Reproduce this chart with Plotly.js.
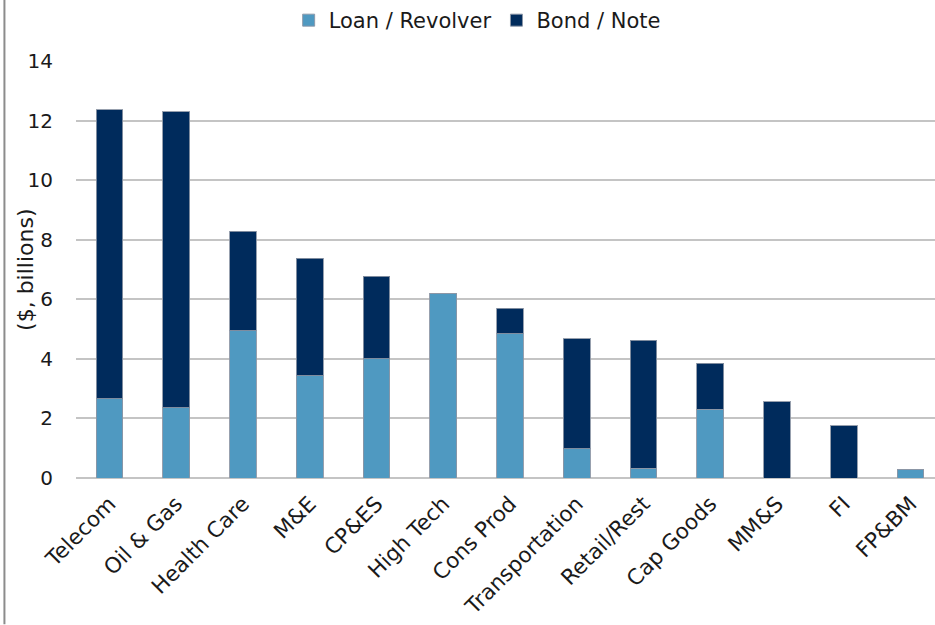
<!DOCTYPE html>
<html>
<head>
<meta charset="utf-8">
<script src="https://cdn.plot.ly/plotly-3.0.1.min.js"></script>
<style>html,body{margin:0;padding:0;background:#fff;}#chart{width:935px;height:625px;}</style>
</head>
<body>
<div id="chart"></div>
<script>
const categories = ["Telecom", "Oil & Gas", "Health Care", "M&E", "CP&ES", "High Tech", "Cons Prod", "Transportation", "Retail/Rest", "Cap Goods", "MM&S", "FI", "FP&BM"];
const loanRevolver = [2.66, 2.36, 4.94, 3.44, 4.00, 6.18, 4.85, 0.98, 0.33, 2.31, 0, 0, 0.30];
const bondNote = [9.71, 9.93, 3.34, 3.94, 2.77, 0, 0.85, 3.69, 4.30, 1.55, 2.56, 1.76, 0];
const yTicks = [0, 2, 4, 6, 8, 10, 12, 14];
const yTitle = "($, billions)";

const font = "'DejaVu Sans', Arial, sans-serif";
const outline = {color: "rgba(140,150,165,0.9)", width: 1};

const traces = [
  {type: "bar", name: "Loan / Revolver", x: categories, y: loanRevolver,
   marker: {color: "#4f99c1", line: outline}},
  {type: "bar", name: "Bond / Note", x: categories, y: bondNote,
   marker: {color: "#002b5c", line: outline}}
];

const layout = {
  width: 935, height: 625,
  margin: {l: 75.6, r: 0, t: 61, b: 146.5},
  barmode: "stack",
  bargap: 0.6,
  paper_bgcolor: "#fff", plot_bgcolor: "#fff",
  font: {family: font, size: 21, color: "#1a1a1a"},
  showlegend: true,
  legend: {orientation: "h", x: 0.467, xanchor: "center", y: 1.098, yanchor: "middle",
           font: {family: font, size: 21, color: "#1a1a1a"}, traceorder: "normal",
           itemwidth: 30, tracegroupgap: 10},
  xaxis: {type: "category", range: [-0.5, 12.365], tickangle: -45,
          tickfont: {family: font, size: 21.5, color: "#1a1a1a"},
          showgrid: false, showline: false, ticks: "", zeroline: false, fixedrange: true,
          ticklabelstandoff: 8},
  yaxis: {range: [0, 14], tickvals: yTicks, ticktext: yTicks.map(String),
          tickfont: {family: font, size: 20, color: "#1a1a1a"},
          showgrid: true, gridcolor: "#c4c4c4", gridwidth: 2,
          zeroline: true, zerolinecolor: "#c4c4c4", zerolinewidth: 2,
          ticks: "", ticklabelstandoff: 22, showline: false},
  annotations: [
    {text: yTitle, xref: "paper", yref: "paper", x: (25 - 75.6) / 859.4, y: 0.5,
     xanchor: "center", yanchor: "middle", textangle: -90, showarrow: false,
     font: {family: font, size: 22, color: "#1a1a1a"}}
  ],
  shapes: [
    {type: "line", xref: "paper", yref: "paper",
     x0: (4 - 75.6) / 859.4, x1: (4 - 75.6) / 859.4, y0: -146.5 / 417.5, y1: (478.5) / 417.5,
     line: {color: "#8c8c8c", width: 2}}
  ]
};

Plotly.newPlot("chart", traces, layout, {displayModeBar: false, staticPlot: true});
</script>
</body>
</html>
